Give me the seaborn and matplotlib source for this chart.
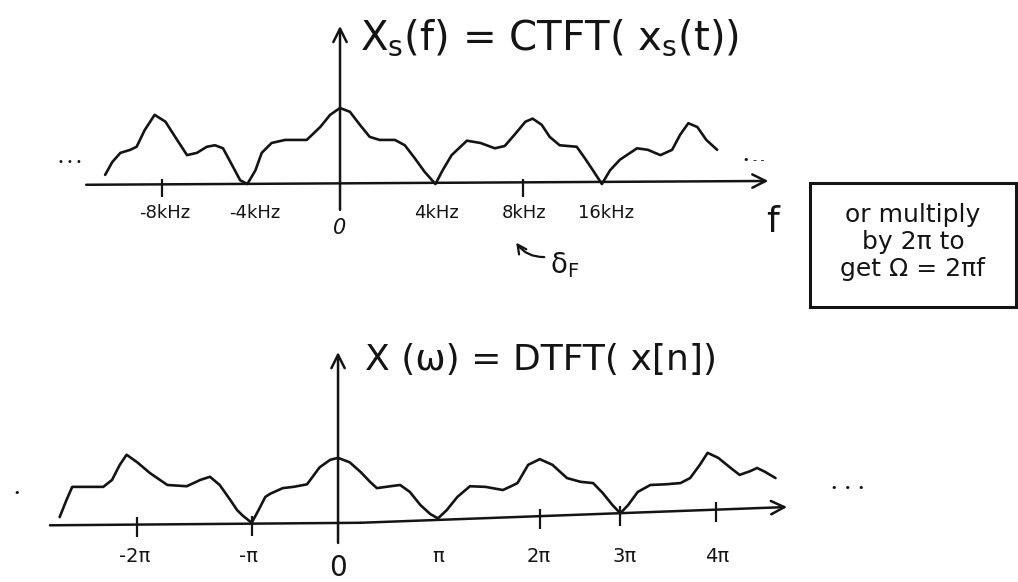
import numpy as np
import matplotlib
matplotlib.use('Agg')
import matplotlib.pyplot as plt
import seaborn as sns
from matplotlib.patches import Rectangle

sns.set_theme(style='white')
plt.rcParams['font.family'] = ['DejaVu Sans']
plt.rcParams['mathtext.default'] = 'regular'

ink = '#141414'

# top sketch X_s(f): x in steps of 4 kHz (as drawn), amplitude relative to centre peak
f_pos = [-2.61, -2.53, -2.44, -2.33, -2.26, -2.17, -2.06, -1.94, -1.81, -1.70, -1.59, -1.48, -1.39, -1.30, -1.20, -1.11, -1.03,
         -0.94, -0.87, -0.76, -0.61, -0.50, -0.37, -0.22, -0.11, 0.00, 0.11, 0.22, 0.33, 0.44, 0.61, 0.72, 0.83, 0.94, 1.06,
         1.14, 1.24, 1.41, 1.56, 1.72, 1.83, 1.94, 2.06, 2.14, 2.24, 2.33, 2.44, 2.63, 2.72, 2.81, 2.91,
         3.00, 3.11, 3.30, 3.42, 3.56, 3.69, 3.78, 3.87, 3.97, 4.07, 4.19]
f_amp = [0.12, 0.29, 0.41, 0.45, 0.49, 0.71, 0.91, 0.82, 0.58, 0.38, 0.41, 0.49, 0.51, 0.47, 0.25, 0.05, 0.00,
         0.18, 0.41, 0.54, 0.58, 0.58, 0.58, 0.75, 0.91, 1.00, 0.95, 0.78, 0.62, 0.58, 0.58, 0.51, 0.34, 0.16, 0.00,
         0.18, 0.38, 0.57, 0.54, 0.47, 0.50, 0.65, 0.82, 0.86, 0.78, 0.62, 0.51, 0.49, 0.34, 0.18, 0.00,
         0.18, 0.32, 0.47, 0.45, 0.38, 0.45, 0.65, 0.80, 0.75, 0.58, 0.45]
f_ticks = [-1.95, -0.95, 0, 1.07, 2.05, 2.95]
f_labels = ['-8kHz', '-4kHz', '0', '4kHz', '8kHz', '16kHz']
f_marks = [-1.98, 2.03]

# bottom sketch X(w): x in multiples of pi (as drawn)
w_pos = [-2.87, -2.80, -2.74, -2.61, -2.42, -2.33, -2.25, -2.18, -2.07, -1.94, -1.76, -1.56, -1.42, -1.32, -1.22, -1.11, -1.04, -0.98, -0.89,
         -0.82, -0.75, -0.70, -0.57, -0.46, -0.32, -0.19, -0.08, 0.00, 0.12, 0.23, 0.33, 0.40, 0.54, 0.64, 0.74, 0.85, 0.95, 1.03,
         1.12, 1.23, 1.36, 1.52, 1.70, 1.77, 1.85, 1.96, 2.08, 2.21, 2.36, 2.50, 2.63, 2.73, 2.83, 2.91,
         2.99, 3.09, 3.22, 3.37, 3.53, 3.63, 3.73, 3.81, 3.92, 4.04, 4.14, 4.25, 4.32, 4.40, 4.51]
w_amp = [0.11, 0.38, 0.59, 0.59, 0.59, 0.70, 0.94, 1.10, 0.98, 0.81, 0.62, 0.60, 0.70, 0.75, 0.62, 0.38, 0.22, 0.13, 0.02,
         0.22, 0.43, 0.48, 0.57, 0.59, 0.63, 0.90, 1.02, 1.05, 0.98, 0.83, 0.67, 0.57, 0.60, 0.62, 0.51, 0.30, 0.16, 0.09,
         0.22, 0.43, 0.60, 0.59, 0.54, 0.59, 0.65, 0.94, 1.03, 0.94, 0.73, 0.67, 0.65, 0.49, 0.30, 0.17,
         0.30, 0.51, 0.62, 0.63, 0.65, 0.73, 0.94, 1.13, 1.05, 0.90, 0.78, 0.84, 0.89, 0.83, 0.73]
w_axis_x = [-2.97, 0.23, 4.63]
w_axis_y = [-0.02, 0.02, 0.27]
w_ticks = [-2.1, -0.92, 0, 1.03, 2.07, 2.95, 3.91]
w_labels = ['-2π', '-π', '0', 'π', '2π', '3π', '4π']
w_marks = [-2.07, -0.89, 2.08, 2.91, 3.90]

fig = plt.figure(figsize=(10.18, 5.82), dpi=100)
ax1 = fig.add_axes([0, 1 - 300 / 582, 1, 300 / 582])
ax2 = fig.add_axes([0, 0, 1, 282 / 582])
for ax in (ax1, ax2):
    ax.axis('off')
ax1.set_xlim(-3.778, 7.533)
ax1.set_ylim(-1.526, 2.421)
ax2.set_xlim(-3.485, 7.010)
ax2.set_ylim(-0.92, 3.556)

arrow = dict(arrowstyle='->', lw=1.8, color=ink, mutation_scale=24, shrinkA=0, shrinkB=0)
curve_kw = dict(color=ink, lw=1.9, sort=False, estimator=None, solid_joinstyle='round', solid_capstyle='round')

# ---- top: CTFT of sampled signal
sns.lineplot(x=f_pos, y=f_amp, ax=ax1, **curve_kw)
ax1.annotate('', xy=(4.76, 0.04), xytext=(-2.82, -0.01), arrowprops=arrow)
ax1.annotate('', xy=(0, 2.08), xytext=(0, -0.34), arrowprops=arrow)
ax1.vlines(f_marks, -0.17, 0.06, color=ink, lw=1.6)
for x, lab in zip(f_ticks, f_labels):
    if lab == '0':
        ax1.text(x, -0.58, lab, ha='center', va='center', fontsize=15, style='italic', color=ink)
    else:
        ax1.text(x, -0.38, lab, ha='center', va='center', fontsize=13, color=ink)
ax1.text(0.22, 1.92, '$X_s(f)$ = CTFT( $x_s(t)$)', ha='left', va='center', fontsize=29, color=ink)
ax1.text(4.8, -0.5, 'f', ha='center', va='center', fontsize=26, color=ink)
ax1.text(-3.0, 0.29, '• • •', ha='center', va='center', fontsize=7, color=ink)
ax1.text(4.6, 0.32, '• - -', ha='center', va='center', fontsize=8, color=ink)
ax1.annotate('', xy=(1.94, -0.74), xytext=(2.30, -0.96),
             arrowprops=dict(arrowstyle='->', lw=1.6, color=ink, mutation_scale=16,
                             connectionstyle='arc3,rad=-0.3'))
ax1.text(2.5, -1.07, r'$\delta_F$', ha='center', va='center', fontsize=20, color=ink)

# ---- bottom: DTFT of x[n]
sns.lineplot(x=w_pos, y=w_amp, ax=ax2, **curve_kw)
ax2.plot(w_axis_x[:2], w_axis_y[:2], color=ink, lw=1.8)
ax2.annotate('', xy=(w_axis_x[2], w_axis_y[2]), xytext=(w_axis_x[1], w_axis_y[1]), arrowprops=arrow)
ax2.annotate('', xy=(0, 2.73), xytext=(0, -0.30), arrowprops=arrow)
base = np.interp(w_marks, w_axis_x, w_axis_y)
ax2.vlines(w_marks, base - 0.2, base + 0.12, color=ink, lw=1.6)
for x, lab in zip(w_ticks, w_labels):
    if lab == '0':
        ax2.text(x, -0.70, lab, ha='center', va='center', fontsize=20, color=ink)
    else:
        ax2.text(x, -0.52, lab, ha='center', va='center', fontsize=14, color=ink)
ax2.text(0.28, 2.60, 'X (ω) = DTFT( x[n])', ha='left', va='center', fontsize=26, color=ink)
ax2.text(-3.31, 0.49, '•', ha='center', va='center', fontsize=8, color=ink)
ax2.text(5.25, 0.57, '•  •  •', ha='center', va='center', fontsize=8, color=ink)

# side note box
fig.add_artist(Rectangle((810 / 1018, 1 - 307 / 582), 206 / 1018, 124 / 582,
                         transform=fig.transFigure, fill=False, lw=2.2, ec=ink))
fig.text(913 / 1018, 1 - 242 / 582, 'or multiply\nby 2π to\nget Ω = 2πf', ha='center', va='center',
         fontsize=18, linespacing=1.15, color=ink)

fig.savefig('out.png', dpi=100)
